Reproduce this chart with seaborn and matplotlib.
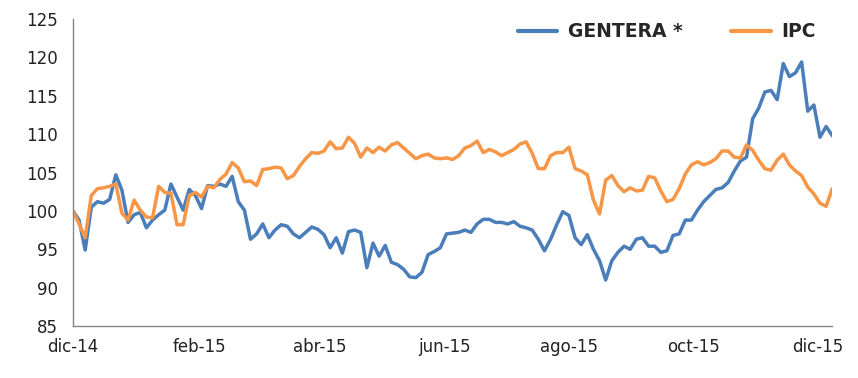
import pandas as pd
import matplotlib
matplotlib.use("Agg")
import matplotlib.pyplot as plt
import seaborn as sns

# valores, un punto cada 3 días desde el 1-dic-2014
gentera = [100, 98.8, 94.9, 100.5, 101.2, 101.0, 101.5, 104.7, 102.7, 98.5,
           99.5, 99.8, 97.8, 98.8, 99.5, 100.1, 103.5, 101.8, 100.1, 102.8,
           102.0, 100.3, 103.3, 103.2, 103.5, 103.2, 104.5, 101.2, 100.1, 96.3,
           97.0, 98.3, 96.5, 97.5, 98.2, 98.0, 97.0, 96.5, 97.2, 97.9,
           97.6, 96.9, 95.2, 96.5, 94.5, 97.3, 97.5, 97.2, 92.6, 95.8,
           94.1, 95.5, 93.3, 93.0, 92.4, 91.4, 91.3, 92.0, 94.3, 94.7,
           95.2, 97.0, 97.1, 97.2, 97.5, 97.2, 98.3, 98.9, 98.9, 98.5,
           98.5, 98.3, 98.6, 98.0, 97.8, 97.5, 96.3, 94.8, 96.3, 98.2,
           99.9, 99.4, 96.5, 95.6, 96.9, 95.0, 93.5, 91.0, 93.5, 94.6,
           95.4, 95.0, 96.3, 96.5, 95.4, 95.4, 94.6, 94.8, 96.8, 97.0,
           98.8, 98.8, 100.1, 101.2, 102.0, 102.8, 103.0, 103.7, 105.2, 106.5,
           107.0, 112.0, 113.4, 115.5, 115.7, 114.5, 119.2, 117.5, 118.0, 119.4,
           113.0, 113.8, 109.6, 111.0, 109.8]

ipc = [100, 98.3, 96.5, 102.0, 102.9, 103.0, 103.2, 103.5, 99.7, 98.8,
       101.4, 100.1, 99.2, 99.1, 103.2, 102.4, 102.3, 98.2, 98.2, 102.0,
       102.4, 101.8, 103.2, 103.0, 104.1, 104.8, 106.3, 105.6, 103.8, 103.9,
       103.3, 105.4, 105.5, 105.7, 105.6, 104.2, 104.6, 105.8, 106.8, 107.6,
       107.5, 107.8, 109.0, 108.1, 108.2, 109.6, 108.8, 107.0, 108.2, 107.6,
       108.3, 107.8, 108.6, 108.9, 108.2, 107.5, 106.8, 107.2, 107.4, 106.9,
       106.8, 106.9, 106.7, 107.2, 108.2, 108.5, 109.1, 107.6, 108.0, 107.7,
       107.2, 107.6, 108.0, 108.7, 109.0, 107.5, 105.5, 105.5, 107.2, 107.6,
       107.6, 108.3, 105.5, 105.2, 104.7, 101.4, 99.6, 104.0, 104.6, 103.3,
       102.5, 103.0, 102.6, 102.7, 104.5, 104.3, 102.6, 101.2, 101.5, 102.9,
       104.8, 106.0, 106.4, 106.0, 106.3, 106.8, 107.8, 107.8, 107.0, 106.9,
       108.6, 107.9, 106.6, 105.5, 105.3, 106.6, 107.4, 106.0, 105.2, 104.6,
       103.1, 102.2, 101.0, 100.6, 102.9]

series_names = ["GENTERA *", "IPC"]
tick_dates = ["2014-12-01", "2015-02-01", "2015-04-01", "2015-06-01",
              "2015-08-01", "2015-10-01", "2015-12-01"]
tick_labels = ["dic-14", "feb-15", "abr-15", "jun-15", "ago-15", "oct-15", "dic-15"]

fechas = pd.date_range("2014-12-01", periods=len(gentera), freq="3D")
df = pd.DataFrame({"fecha": fechas, series_names[0]: gentera, series_names[1]: ipc})
df = df.melt(id_vars="fecha", var_name="serie", value_name="valor")

sns.set_style("white")
plt.rcParams["font.family"] = ["DejaVu Sans"]

fig = plt.figure(figsize=(8.58, 3.78), dpi=100)
ax = fig.add_axes([0.085, 0.1376, 0.885, 0.812])

colores = {"GENTERA *": "#4A7EBB", "IPC": "#F79646"}
sns.lineplot(data=df, x="fecha", y="valor", hue="serie", palette=colores,
             linewidth=2.5, ax=ax, legend=False)

ax.set_xlim(pd.Timestamp("2014-12-01"), pd.Timestamp("2014-12-01") + pd.Timedelta(days=372))
ax.set_ylim(85, 125)
ax.set_yticks(range(85, 126, 5))
ax.set_xticks(pd.to_datetime(tick_dates))
ax.set_xticklabels(tick_labels)
ax.set_xlabel("")
ax.set_ylabel("")

for s in ["top", "right"]:
    ax.spines[s].set_visible(False)
for s in ["left", "bottom"]:
    ax.spines[s].set_color("#868686")
    ax.spines[s].set_linewidth(1)
ax.tick_params(axis="both", direction="out", length=4, width=1, color="#868686",
               labelsize=12, labelcolor="#222222")
ax.tick_params(axis="x", pad=5)
ax.tick_params(axis="y", pad=7)

handles = [plt.Line2D([], [], color=colores[n], linewidth=3) for n in series_names]
leg = ax.legend(handles, series_names, loc="upper right", bbox_to_anchor=(1.0, 1.045),
                ncol=2, frameon=False, handlelength=2.1, handletextpad=0.55,
                columnspacing=2.6, prop={"weight": "bold", "size": 13.5})

fig.savefig("out.png", dpi=100)
